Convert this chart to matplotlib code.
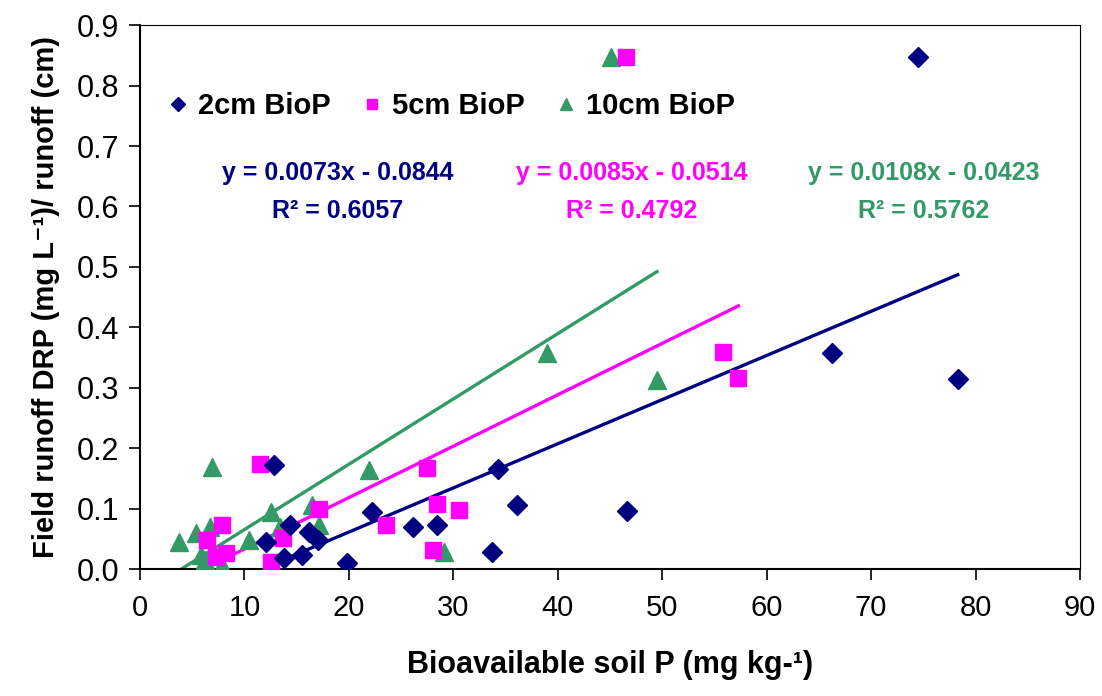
import matplotlib.pyplot as plt

# data
x_2cm = [74.5, 78.3, 66.3, 46.6, 36.1, 34.3, 33.7, 28.4, 26.1, 22.2, 19.8, 17.0, 16.2, 15.5, 14.4, 13.8, 12.8, 12.1]
y_2cm = [0.848, 0.315, 0.358, 0.097, 0.106, 0.166, 0.029, 0.073, 0.070, 0.095, 0.010, 0.049, 0.062, 0.024, 0.073, 0.018, 0.172, 0.045]

x_5cm = [46.5, 55.8, 57.3, 27.5, 28.4, 30.5, 23.6, 28.1, 11.5, 7.9, 6.4, 8.2, 7.3, 13.7, 12.5, 17.1]
y_5cm = [0.848, 0.359, 0.316, 0.167, 0.108, 0.098, 0.073, 0.032, 0.174, 0.073, 0.049, 0.027, 0.020, 0.052, 0.012, 0.100]

x_10cm = [45.1, 39.0, 49.5, 6.9, 3.7, 5.4, 6.7, 5.8, 6.2, 7.9, 10.4, 12.5, 13.4, 16.5, 17.1, 21.9, 29.1]
y_10cm = [0.848, 0.358, 0.313, 0.170, 0.045, 0.060, 0.070, 0.024, 0.016, 0.007, 0.049, 0.095, 0.070, 0.106, 0.073, 0.164, 0.029]

labels = ["2cm BioP", "5cm BioP", "10cm BioP"]
slopes = [0.0073, 0.0085, 0.0108]
intercepts = [-0.0844, -0.0514, -0.0423]
r2 = ["0.6057", "0.4792", "0.5762"]
colors = ["#000080", "#FF00FF", "#339966"]
markers = ["D", "s", "^"]
msizes = [10.5, 11, 13]

fam = ["Liberation Sans", "DejaVu Sans"]
plt.rcParams["font.family"] = fam

fig = plt.figure(figsize=(11.02, 6.96), dpi=100)
ax = fig.add_axes([0.127, 0.182, 0.853, 0.782])

xs = [x_2cm, x_5cm, x_10cm]
ys = [y_2cm, y_5cm, y_10cm]

# trendlines over the data range
for i in range(3):
    lo, hi = min(xs[i]), max(xs[i])
    ax.plot([lo, hi], [slopes[i]*lo + intercepts[i], slopes[i]*hi + intercepts[i]],
            color=colors[i], lw=2.4, zorder=2)

for i in [2, 1, 0]:
    ax.plot(xs[i], ys[i], linestyle="none", marker=markers[i], ms=msizes[i],
            color=colors[i], label=labels[i], zorder=3)

ax.set_xlim(0, 90)
ax.set_ylim(0, 0.9)
ax.set_xticks(range(0, 91, 10))
ax.set_yticks([i/10 for i in range(10)])
ax.set_yticklabels(["%.1f" % (i/10) for i in range(10)])
ax.tick_params(direction="out", length=8, width=1.2)
ax.tick_params(axis="y", labelsize=22, pad=7)
ax.tick_params(axis="x", labelsize=21, pad=10)
for s in ["left", "bottom"]:
    ax.spines[s].set_linewidth(1.5)
for s in ["top", "right"]:
    ax.spines[s].set_linewidth(0.8)

ax.set_xlabel("Bioavailable soil P (mg kg-\u00b9)", fontsize=22, fontweight="bold",
              family=fam, labelpad=20)
ax.set_ylabel("Field runoff DRP (mg L\u207b\u00b9)/ runoff (cm)", fontsize=21, fontweight="bold",
              family=fam, labelpad=12)

h, l = ax.get_legend_handles_labels()
leg = ax.legend(h[::-1], l[::-1], loc="upper left", bbox_to_anchor=(0.0, 0.925), ncol=3,
                frameon=False, handlelength=0.8, handletextpad=0.3, columnspacing=1.0,
                markerscale=0.65, prop={"family": fam, "weight": "bold", "size": 21})

eq_x = [0.21, 0.523, 0.834]
for i in range(3):
    ax.text(eq_x[i], 0.728, "y = %.4fx - %.4f" % (slopes[i], -intercepts[i]),
            transform=ax.transAxes, ha="center", va="center", color=colors[i],
            fontsize=18, fontweight="bold")
    ax.text(eq_x[i], 0.659, "R\u00b2 = " + r2[i], transform=ax.transAxes, ha="center",
            va="center", color=colors[i], fontsize=18, fontweight="bold")

fig.savefig("out.png", dpi=100)
